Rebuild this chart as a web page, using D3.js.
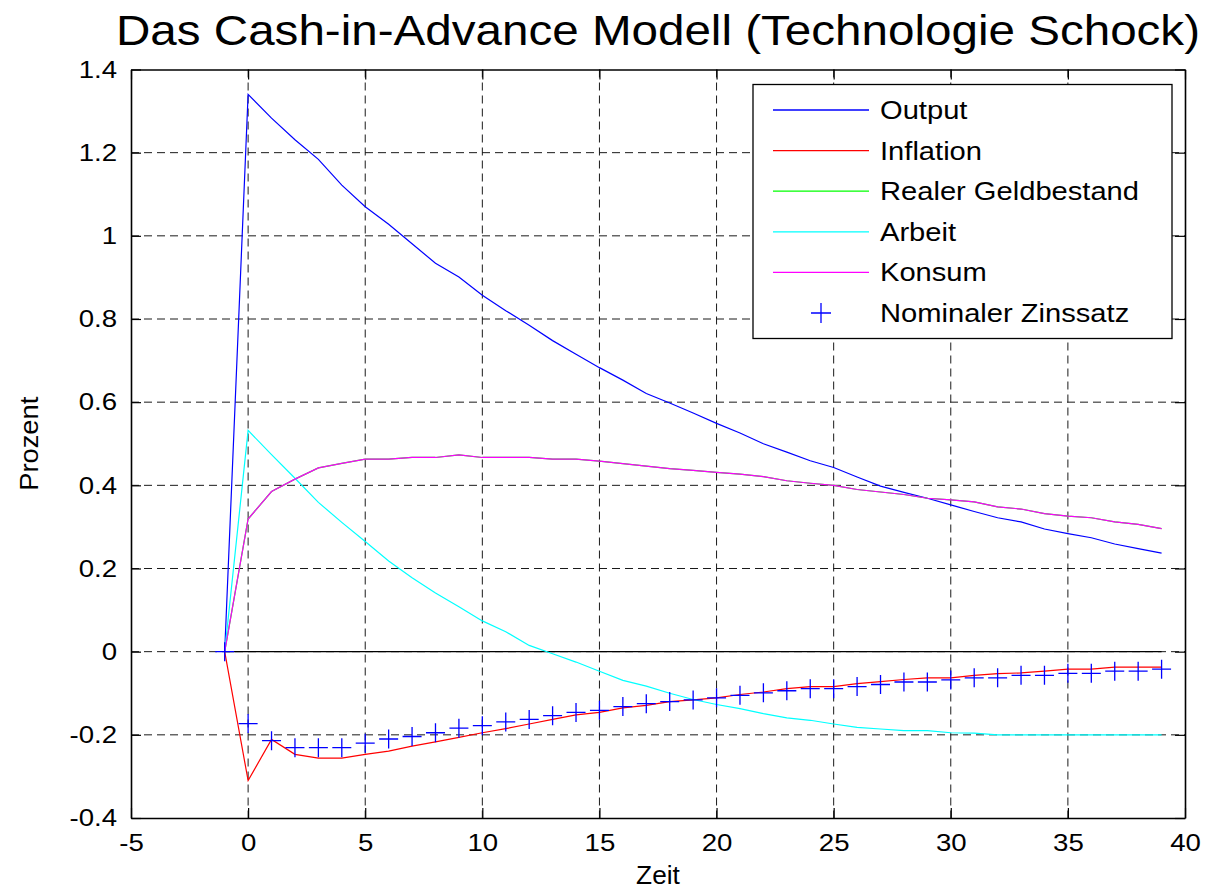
<!DOCTYPE html>
<html>
<head>
<meta charset="utf-8">
<script src="https://cdn.jsdelivr.net/npm/d3@7.9.0/dist/d3.min.js"></script>
<style>
  html, body { margin: 0; padding: 0; background: #fff; }
  svg { display: block; }
  text { font-family: "Liberation Sans", Arial, sans-serif; fill: #000; }
</style>
</head>
<body>
<div id="chart"></div>
<script>
// =========================================
// DATA
// =========================================
const zeit = d3.range(-1, 40);   // periods -1 .. 39

const output = [0, 1.34, 1.283, 1.231, 1.184, 1.122, 1.07, 1.028, 0.981, 0.934, 0.901,
  0.857, 0.82, 0.785, 0.748, 0.715, 0.683, 0.653, 0.621, 0.598, 0.574,
  0.549, 0.526, 0.5, 0.48, 0.459, 0.443, 0.42, 0.398, 0.383, 0.369,
  0.353, 0.337, 0.322, 0.312, 0.295, 0.284, 0.274, 0.259, 0.248, 0.237];

const inflation = [0, -0.31, -0.211, -0.247, -0.256, -0.256, -0.247, -0.239, -0.227, -0.217, -0.206,
  -0.195, -0.185, -0.174, -0.163, -0.152, -0.146, -0.135, -0.129, -0.12, -0.116,
  -0.111, -0.103, -0.097, -0.089, -0.084, -0.084, -0.077, -0.072, -0.067, -0.063,
  -0.063, -0.057, -0.053, -0.051, -0.047, -0.042, -0.042, -0.037, -0.037, -0.037];

// hidden below Konsum in the picture (m = c in the CIA model)
const realerGeldbestand = [0, 0.319, 0.385, 0.415, 0.442, 0.453, 0.463, 0.463, 0.467, 0.467, 0.473,
  0.467, 0.467, 0.467, 0.463, 0.463, 0.458, 0.452, 0.446, 0.44, 0.436,
  0.431, 0.427, 0.421, 0.411, 0.405, 0.4, 0.39, 0.384, 0.378, 0.369,
  0.365, 0.36, 0.348, 0.343, 0.332, 0.326, 0.322, 0.312, 0.306, 0.296];

const arbeit = [0, 0.532, 0.474, 0.417, 0.359, 0.311, 0.265, 0.218, 0.178, 0.141, 0.108,
  0.074, 0.048, 0.015, -0.005, -0.025, -0.047, -0.069, -0.083, -0.1, -0.115,
  -0.127, -0.137, -0.149, -0.159, -0.165, -0.174, -0.182, -0.186, -0.19, -0.19,
  -0.195, -0.196, -0.2, -0.2, -0.2, -0.2, -0.2, -0.2, -0.2, -0.2];

const konsum = [0, 0.319, 0.385, 0.415, 0.442, 0.453, 0.463, 0.463, 0.467, 0.467, 0.473,
  0.467, 0.467, 0.467, 0.463, 0.463, 0.458, 0.452, 0.446, 0.44, 0.436,
  0.431, 0.427, 0.421, 0.411, 0.405, 0.4, 0.39, 0.384, 0.378, 0.369,
  0.365, 0.36, 0.348, 0.343, 0.332, 0.326, 0.322, 0.312, 0.306, 0.296];

const nominalerZins = [0, -0.173, -0.214, -0.231, -0.231, -0.231, -0.22, -0.21, -0.204, -0.195, -0.184,
  -0.178, -0.169, -0.163, -0.154, -0.146, -0.141, -0.132, -0.125, -0.12, -0.116,
  -0.111, -0.105, -0.099, -0.094, -0.089, -0.089, -0.084, -0.079, -0.073, -0.073,
  -0.068, -0.063, -0.063, -0.057, -0.057, -0.052, -0.052, -0.047, -0.047, -0.042];

const zeroLine = [-1, 39];

const xTicks = [-5, 0, 5, 10, 15, 20, 25, 30, 35, 40];
const yTicks = [-0.4, -0.2, 0, 0.2, 0.4, 0.6, 0.8, 1, 1.2, 1.4];

const lineSeries = [
  { name: "Output", values: output, color: "#0000ff" },
  { name: "Inflation", values: inflation, color: "#ff0000" },
  { name: "Realer Geldbestand", values: realerGeldbestand, color: "#00ff00" },
  { name: "Arbeit", values: arbeit, color: "#00ffff" },
  { name: "Konsum", values: konsum, color: "#ff00ff" }
];
const markerSeries = { name: "Nominaler Zinssatz", values: nominalerZins, color: "#0000ff" };

// =========================================
// LAYOUT
// =========================================
const W = 1205, H = 890;
const plot = { left: 131, right: 1185, top: 69.5, bottom: 818 };
const stretchX = 1.15;   // glyphs in the picture are a bit wider than Arial

const svg = d3.select("#chart").append("svg")
  .attr("width", W)
  .attr("height", H);

const x = d3.scaleLinear().domain([-5, 40]).range([plot.left, plot.right]);
const y = d3.scaleLinear().domain([-0.4, 1.4]).range([plot.bottom, plot.top]);

function widen(sel, k) {
  sel.each(function() {
    const len = this.getComputedTextLength();
    d3.select(this)
      .attr("textLength", len * k)
      .attr("lengthAdjust", "spacingAndGlyphs");
  });
}

// grid
const grid = svg.append("g").attr("stroke", "#1a1a1a").attr("stroke-width", 1)
  .attr("stroke-dasharray", "8,5");
grid.selectAll(".vg").data(xTicks.slice(1, -1)).join("line")
  .attr("x1", d => x(d)).attr("x2", d => x(d))
  .attr("y1", plot.top).attr("y2", plot.bottom);
grid.selectAll(".hg").data(yTicks.slice(1, -1)).join("line")
  .attr("x1", plot.left).attr("x2", plot.right)
  .attr("y1", d => y(d)).attr("y2", d => y(d));

// zero line
svg.append("line")
  .attr("x1", x(zeroLine[0])).attr("x2", x(zeroLine[1]))
  .attr("y1", y(0)).attr("y2", y(0))
  .attr("stroke", "#000").attr("stroke-width", 1.3);

// lines
const line = d3.line()
  .x((d, i) => x(zeit[i]))
  .y(d => y(d));

svg.append("g").selectAll("path")
  .data(lineSeries)
  .join("path")
  .attr("fill", "none")
  .attr("stroke", d => d.color)
  .attr("stroke-width", 1.2)
  .attr("d", d => line(d.values));

// + markers
const plus = s => `M${-s},0H${s}M0,${-s}V${s}`;
svg.append("g").selectAll("path")
  .data(markerSeries.values)
  .join("path")
  .attr("transform", (d, i) => `translate(${x(zeit[i])},${y(d)})`)
  .attr("d", plus(9.5))
  .attr("fill", "none")
  .attr("stroke", markerSeries.color)
  .attr("stroke-width", 1.3);

// axes box with inward ticks
const tickLen = 10;
const xAxisB = d3.axisBottom(x).tickValues(xTicks).tickSizeInner(-tickLen).tickSizeOuter(0).tickPadding(16).tickFormat(d => String(d));
const xAxisT = d3.axisTop(x).tickValues(xTicks).tickSizeInner(-tickLen).tickSizeOuter(0).tickFormat("");
const yAxisL = d3.axisLeft(y).tickValues(yTicks).tickSizeInner(-tickLen).tickSizeOuter(0).tickPadding(14)
  .tickFormat(d => String(+d.toFixed(1)));
const yAxisR = d3.axisRight(y).tickValues(yTicks).tickSizeInner(-tickLen).tickSizeOuter(0).tickFormat("");

function styleAxis(g) {
  g.select(".domain").attr("stroke", "#000").attr("stroke-width", 1.6);
  g.selectAll(".tick line").attr("stroke", "#000").attr("stroke-width", 1.2);
  g.selectAll("text").attr("font-size", 24).attr("font-family", null).attr("fill", "#000");
}

const gxb = svg.append("g").attr("transform", `translate(0,${plot.bottom})`).call(xAxisB).call(styleAxis);
svg.append("g").attr("transform", `translate(0,${plot.top})`).call(xAxisT).call(styleAxis);
const gyl = svg.append("g").attr("transform", `translate(${plot.left},0)`).call(yAxisL).call(styleAxis);
svg.append("g").attr("transform", `translate(${plot.right},0)`).call(yAxisR).call(styleAxis);

gxb.selectAll("text").attr("dy", "0.71em");
widen(gxb.selectAll(".tick text"), stretchX);
widen(gyl.selectAll(".tick text"), stretchX);

// title and axis labels
svg.append("text")
  .attr("x", (plot.left + plot.right) / 2)
  .attr("y", 45)
  .attr("text-anchor", "middle")
  .attr("font-size", 42)
  .text("Das Cash-in-Advance Modell (Technologie Schock)")
  .attr("textLength", 1084)
  .attr("lengthAdjust", "spacingAndGlyphs");

svg.append("text")
  .attr("x", (plot.left + plot.right) / 2)
  .attr("y", 884)
  .attr("text-anchor", "middle")
  .attr("font-size", 25)
  .text("Zeit")
  .call(widen, 1.05);

svg.append("text")
  .attr("transform", `translate(38,${(plot.top + plot.bottom) / 2}) rotate(-90)`)
  .attr("text-anchor", "middle")
  .attr("font-size", 26)
  .text("Prozent")
  .call(widen, 1.05);

// =========================================
// LEGEND
// =========================================
const legend = svg.append("g");
legend.append("rect")
  .attr("x", 753).attr("y", 84.5)
  .attr("width", 419).attr("height", 254)
  .attr("fill", "#fff").attr("stroke", "#000").attr("stroke-width", 1.3);

const legendItems = [...lineSeries, markerSeries];
const rowY = i => 110 + i * 40.6;

legendItems.forEach((d, i) => {
  const cy = rowY(i);
  if (d === markerSeries) {
    legend.append("path")
      .attr("transform", `translate(821,${cy})`)
      .attr("d", plus(10))
      .attr("fill", "none").attr("stroke", d.color).attr("stroke-width", 1.3);
  } else {
    legend.append("line")
      .attr("x1", 773).attr("x2", 869)
      .attr("y1", cy).attr("y2", cy)
      .attr("stroke", d.color).attr("stroke-width", 1.3);
  }
  legend.append("text")
    .attr("x", 880).attr("y", cy + 9)
    .attr("font-size", 26)
    .text(d.name)
    .call(widen, 1.12);
});
</script>
</body>
</html>
